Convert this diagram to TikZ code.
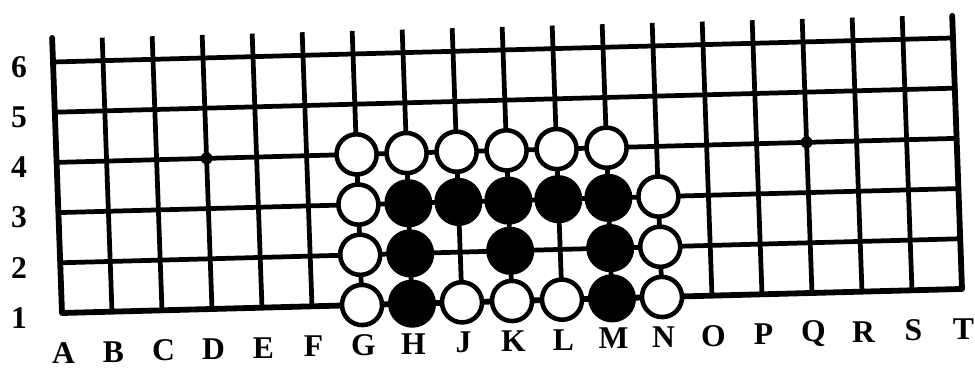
\documentclass[tikz,border=0pt]{standalone}
\usepackage{fontspec}
\setmainfont{Liberation Serif}

\tikzset{
  gridline/.style={line width=2.7pt},
  edgeline/.style={line width=3.3pt, line cap=round, line join=round},
  whitestone/.style={draw, fill=white, line width=2.6pt},
  blackstone/.style={fill=black},
  coordlabel/.style={font=\fontsize{18}{22}\selectfont\bfseries, inner sep=0pt},
}

\begin{document}
\begin{tikzpicture}
  \useasboundingbox (0,0) rectangle (19.5,7.36);

  % Row numbers
  \foreach \r in {1,...,6}
    \node[coordlabel] (row\r) at (0.38, {1.0+1.004*(\r-1)}) {\r};

  \begin{scope}[shift={(1.24cm,1.10cm)}, x={(1cm,0.0267cm)}, y={(-0.036cm,1.004cm)}]
    % Grid
    \foreach \c in {1,...,17}
      \draw[gridline] (\c,0) -- (\c,5.46);
    \foreach \r in {1,...,5}
      \draw[gridline] (0,\r) -- (18,\r);

    % Board edges
    \draw[edgeline] (0,5.48) -- (0,0) -- (18,0) -- (18,5.44);

    % Star points
    \fill (3,3) circle (0.12) (15,3) circle (0.12);

    % White stones
    \foreach \c/\r in {6/3,7/3,8/3,9/3,10/3,11/3,
                       6/2,12/2, 6/1,12/1,
                       6/0,8/0,9/0,10/0,12/0}
      \draw[whitestone] (\c,\r) circle (0.4);

    % Black stones
    \foreach \c/\r in {7/2,8/2,9/2,10/2,11/2,
                       7/1,9/1,11/1, 7/0,11/0}
      \fill[blackstone] (\c,\r) circle (0.48);

    % Column letters
    \foreach \l [count=\c from 0] in {A,B,C,D,E,F,G,H,J,K,L,M,N,O,P,Q,R,S,T}
      \node[coordlabel] (col\l) at (\c,-0.8) {\l};
  \end{scope}
\end{tikzpicture}
\end{document}
